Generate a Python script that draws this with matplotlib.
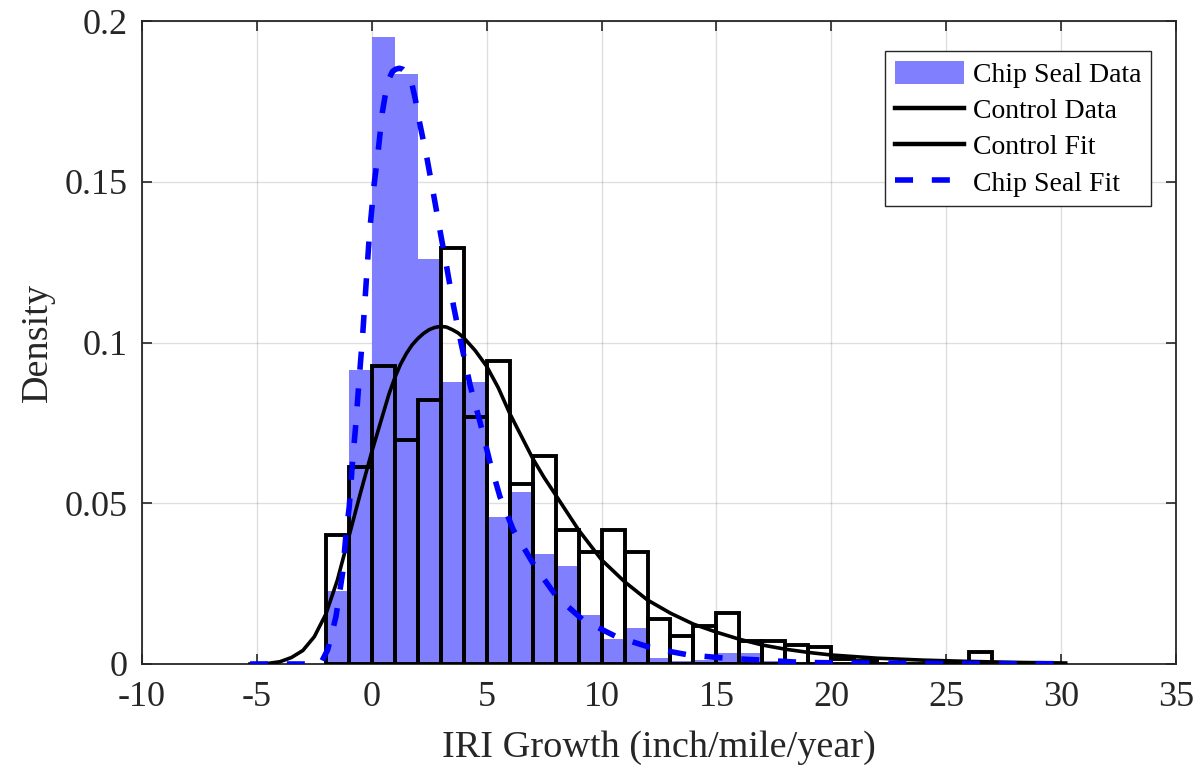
import numpy as np
import matplotlib
matplotlib.use("Agg")
import matplotlib.pyplot as plt
from matplotlib.lines import Line2D
from matplotlib.patches import Patch

plt.rcParams['font.family'] = ['Liberation Serif', 'DejaVu Serif']
plt.rcParams['lines.scale_dashes'] = False

# ---- data ----
bin_edges_chip = np.arange(-2, 18, 1)          # left edges, width 1
chip_density = [0.0227, 0.0916, 0.195, 0.1835, 0.126, 0.0877, 0.0877, 0.0456,
                0.0534, 0.0343, 0.0305, 0.0153, 0.0077, 0.0112, 0.002, 0.001,
                0.0012, 0.0035, 0.0035, 0.0008]
bin_edges_ctrl = np.arange(-2, 27, 1)
ctrl_density = [0.0402, 0.0613, 0.0928, 0.0698, 0.0820, 0.1294, 0.0769, 0.0942,
                0.0560, 0.0646, 0.0417, 0.0348, 0.0417, 0.0348, 0.0140, 0.0087,
                0.0119, 0.0158, 0.0070, 0.0070, 0.0059, 0.0054, 0.0015, 0.0008,
                0.0, 0.0, 0.0, 0.0, 0.0038]

ctrl_fit_x = [-5.3, -4.5, -4, -3.5, -3, -2.5, -2, -1.5, -1, -0.5, 0, 0.25, 0.5,
              0.75, 1, 1.25, 1.5, 1.75, 2, 2.25, 2.5, 2.75, 3, 3.25, 3.5, 3.75,
              4, 4.5, 5, 5.5, 6, 6.5, 7, 7.5, 8, 9, 10, 11, 12, 13, 14, 15, 16,
              17, 18, 19, 20, 22, 24, 26, 28, 30.2]
ctrl_fit_y = [0.0, 0.0002, 0.0007, 0.002, 0.0042, 0.0085, 0.0155, 0.026, 0.0395,
              0.053, 0.066, 0.072, 0.078, 0.084, 0.089, 0.0932, 0.0965, 0.0992,
              0.1012, 0.1028, 0.1040, 0.1047, 0.1050, 0.1048, 0.1040, 0.1030,
              0.1015, 0.0975, 0.0926, 0.086, 0.078, 0.071, 0.064, 0.058, 0.0526,
              0.0417, 0.0324, 0.0256, 0.0199, 0.0158, 0.0124, 0.0099, 0.0077,
              0.0059, 0.0046, 0.0036, 0.0028, 0.0018, 0.0012, 0.0008, 0.0005,
              0.0003]

chip_fit_x = [-5.3, -4, -3, -2.4, -2.2, -1.92, -1.56, -1.27, -1.13, -0.98, -0.84,
              -0.69, -0.55, -0.4, -0.25, -0.1, 0.1, 0.27, 0.46, 0.6, 0.75, 0.9,
              1.04, 1.2, 1.35, 1.54, 1.76, 1.9, 2.05, 2.41, 2.7, 2.99, 3.28, 3.56,
              3.88, 4.29, 4.72, 5.15, 5.58, 6.16, 7.1, 8.04, 9.19, 10.64, 12.22,
              13.8, 15.4, 17, 18.7, 21, 24, 27, 30.2]
chip_fit_y = [0, 0, 0, 0, 0.0005, 0.0044, 0.0147, 0.0283, 0.0397, 0.049, 0.0626,
              0.075, 0.0885, 0.102, 0.118, 0.134, 0.149, 0.159, 0.1716, 0.1775,
              0.182, 0.1843, 0.185, 0.1853, 0.185, 0.1838, 0.180, 0.1755, 0.1695,
              0.157, 0.1456, 0.134, 0.1227, 0.1113, 0.1, 0.0864, 0.075, 0.0626,
              0.052, 0.0417, 0.0303, 0.021, 0.0137, 0.0085, 0.0049, 0.0028,
              0.0018, 0.0012, 0.0005, 0.0003, 0.0002, 0.0001, 0.0001]

xticks = [-10, -5, 0, 5, 10, 15, 20, 25, 30, 35]
yticks = [0, 0.05, 0.1, 0.15, 0.2]
ytick_labels = ['0', '0.05', '0.1', '0.15', '0.2']
legend_labels = ['Chip Seal Data', 'Control Data', 'Control Fit', 'Chip Seal Fit']

# ---- figure ----
fig = plt.figure(figsize=(12.02, 7.65), dpi=100)
ax = fig.add_axes([142/1202, 1-664/765, (1176-142)/1202, (664-21)/765])

chip_color = (0.5, 0.5, 1.0)
ax.bar(bin_edges_chip, chip_density, width=1.0, align='edge',
       color=chip_color, edgecolor='none', zorder=2)
ax.bar(bin_edges_ctrl, ctrl_density, width=1.0, align='edge',
       facecolor='none', edgecolor='black', linewidth=2.8, zorder=3)

ax.plot(ctrl_fit_x, ctrl_fit_y, color='black', linewidth=2.6, zorder=4,
        solid_joinstyle='round')
ln, = ax.plot(chip_fit_x, chip_fit_y, color='blue', linewidth=4.0, zorder=5)
ln.set_dashes([13, 13.5])

ax.set_xlim(-10, 35)
ax.set_ylim(0, 0.2)
ax.set_xticks(xticks)
ax.set_xticklabels([str(t) for t in xticks])
ax.set_yticks(yticks)
ax.set_yticklabels(ytick_labels)
ax.tick_params(direction='in', length=7, width=1.2, top=True, right=True,
               labelsize=26, colors='#262626')
ax.tick_params(axis='x', pad=12)
ax.tick_params(axis='y', pad=10)
ax.grid(True, color='#262626', alpha=0.15, linewidth=1.0)
ax.set_axisbelow(True)
for s in ax.spines.values():
    s.set_linewidth(1.3)
    s.set_color('#262626')

ax.set_xlabel('IRI Growth (inch/mile/year)', fontsize=27.5, color='#262626', labelpad=12)
ax.set_ylabel('Density', fontsize=27.5, color='#262626', labelpad=7)

handles = [Patch(facecolor=chip_color, edgecolor='none'),
           Line2D([], [], color='black', linewidth=3.2),
           Line2D([], [], color='black', linewidth=3.2),
           Line2D([], [], color='blue', linewidth=4.0, dashes=[13, 13.5])]
leg = ax.legend(handles, legend_labels, loc='upper right',
                bbox_to_anchor=(1151/1202, 1-51/765), bbox_transform=fig.transFigure,
                fontsize=20, frameon=True, fancybox=False, framealpha=1,
                edgecolor='#262626', handlelength=2.5, handleheight=0.9,
                handletextpad=0.3, labelspacing=0.33, borderpad=0.35,
                borderaxespad=0)
leg.get_frame().set_linewidth(1.0)

fig.savefig('out.png', dpi=100)
